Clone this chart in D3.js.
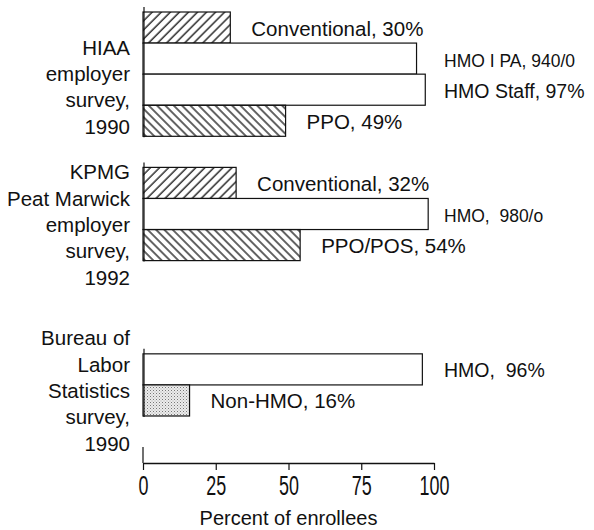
<!DOCTYPE html>
<html>
<head>
<meta charset="utf-8">
<script src="https://cdn.jsdelivr.net/npm/d3@7"></script>
<style>
  body { margin: 0; background: #fff; }
  svg { display: block; font-family: "Liberation Sans", Arial, sans-serif; }
  .lbl { white-space: pre; }
</style>
</head>
<body>
<div id="chart"></div>
<script>
// survey groups (left labels) and the rows each occupies
var surveyNames = [
  ['HIAA', 'employer', 'survey,', '1990'],
  ['KPMG', 'Peat Marwick', 'employer', 'survey,', '1992'],
  ['Bureau of', 'Labor', 'Statistics', 'survey,', '1990']
];
var groupRows = [[0, 3], [5, 7], [11, 12]];

// bars: row index, value, plan type, printed label
var barRows = [0, 1, 2, 3, 5, 6, 7, 11, 12];
var barValues = [30, 94, 97, 49, 32, 98, 54, 96, 16];
var barTypes = ['conv', 'hmo', 'hmo', 'ppo', 'conv', 'hmo', 'ppo', 'hmo', 'non'];
var barLabels = ['Conventional, 30%', 'HMO I PA, 940/0', 'HMO Staff, 97%', 'PPO, 49%',
  'Conventional, 32%', 'HMO,  980/o', 'PPO/POS, 54%',
  'HMO,  96%', 'Non-HMO, 16%'];

var xTicks = [0, 25, 50, 75, 100];
var xTitle = 'Percent of enrollees';

var width = 594, height = 530;
var svg = d3.select('#chart').append('svg')
  .attr('width', width)
  .attr('height', height);

var x = d3.scaleLinear().domain([0, 100]).range([143, 434]);
var row = d3.scaleLinear().domain([0, 13]).range([12, 416]);
var rowH = row(1) - row(0);

// fills
var defs = svg.append('defs');
function hatch(id, size, angle) {
  var p = defs.append('pattern')
    .attr('id', id)
    .attr('patternUnits', 'userSpaceOnUse')
    .attr('width', size)
    .attr('height', size)
    .attr('patternTransform', 'rotate(' + angle + ')');
  p.append('line')
    .attr('x1', 1).attr('y1', 0)
    .attr('x2', 1).attr('y2', size)
    .attr('stroke', '#111')
    .attr('stroke-width', 1.3);
}
hatch('hConv', 6.4, 45);
hatch('hPpo', 5.9, -45);
var dots = defs.append('pattern')
  .attr('id', 'hDots')
  .attr('patternUnits', 'userSpaceOnUse')
  .attr('width', 3).attr('height', 3);
dots.append('rect').attr('width', 3).attr('height', 3).attr('fill', '#ececec');
dots.append('rect').attr('width', 1).attr('height', 1).attr('fill', '#777');
dots.append('rect').attr('x', 1.5).attr('y', 1.5).attr('width', 1).attr('height', 1).attr('fill', '#aaa');

var fills = { conv: 'url(#hConv)', ppo: 'url(#hPpo)', hmo: '#fff', non: 'url(#hDots)' };

var bars = barValues.map(function (v, i) {
  return { v: v, r: barRows[i], type: barTypes[i], label: barLabels[i] };
});

svg.append('g').selectAll('rect')
  .data(bars)
  .enter().append('rect')
  .attr('x', x(0))
  .attr('y', function (d) { return row(d.r); })
  .attr('width', function (d) { return x(d.v) - x(0); })
  .attr('height', rowH)
  .attr('fill', function (d) { return fills[d.type]; })
  .attr('stroke', '#111')
  .attr('stroke-width', 1.2);

svg.append('g').selectAll('text')
  .data(bars)
  .enter().append('text')
  .attr('class', 'lbl')
  .attr('x', function (d) { return d.v > 90 ? x(100) + 10 : x(d.v) + 21; })
  .attr('y', function (d) { return row(d.r) + rowH / 2 + 8; })
  .attr('font-size', function (d) {
    if (d.type !== 'hmo') return 20.5;
    return d.label.indexOf('%') < 0 ? 17.5 : 19.5;
  })
  .attr('fill', '#111')
  .text(function (d) { return d.label; });

// vertical axis pieces, one per survey
svg.append('g').selectAll('line')
  .data(groupRows)
  .enter().append('line')
  .attr('x1', x(0) + 1).attr('x2', x(0) + 1)
  .attr('y1', function (d) { return row(d[0]) - 5; })
  .attr('y2', function (d) { return row(d[1] + 1) + 1; })
  .attr('stroke', '#111')
  .attr('stroke-width', 1.2);

// survey names
var nameShift = [13, 11, 6];
var lineH = 26.4;
surveyNames.forEach(function (lines, gi) {
  var mid = (row(groupRows[gi][0]) + row(groupRows[gi][1] + 1)) / 2 + nameShift[gi];
  var first = mid - (lines.length - 1) * lineH / 2 + 7;
  svg.append('g').selectAll('text')
    .data(lines)
    .enter().append('text')
    .attr('x', 130)
    .attr('y', function (d, i) { return first + i * lineH; })
    .attr('text-anchor', 'end')
    .attr('font-size', 20.5)
    .attr('fill', '#111')
    .text(function (d) { return d; });
});

// bottom axis
var axisY = 463;
var ax = svg.append('g')
  .attr('transform', 'translate(0,' + axisY + ')')
  .call(d3.axisBottom(x).tickValues(xTicks).tickSize(7).tickSizeOuter(0).tickPadding(5));
ax.select('.domain').attr('stroke', '#111').attr('stroke-width', 1.3);
ax.selectAll('.tick line').attr('stroke', '#111').attr('stroke-width', 1.2);
ax.selectAll('.tick text')
  .attr('font-family', '"Liberation Sans", Arial, sans-serif')
  .attr('font-size', 28)
  .attr('fill', '#111')
  .attr('transform', 'scale(0.64,1)');
ax.append('line')
  .attr('x1', x(0)).attr('x2', x(0))
  .attr('y1', -16).attr('y2', 0)
  .attr('stroke', '#111')
  .attr('stroke-width', 1.2);

svg.append('text')
  .attr('x', (x(0) + x(100)) / 2)
  .attr('y', 525)
  .attr('text-anchor', 'middle')
  .attr('font-size', 20)
  .attr('fill', '#111')
  .text(xTitle);
</script>
</body>
</html>
